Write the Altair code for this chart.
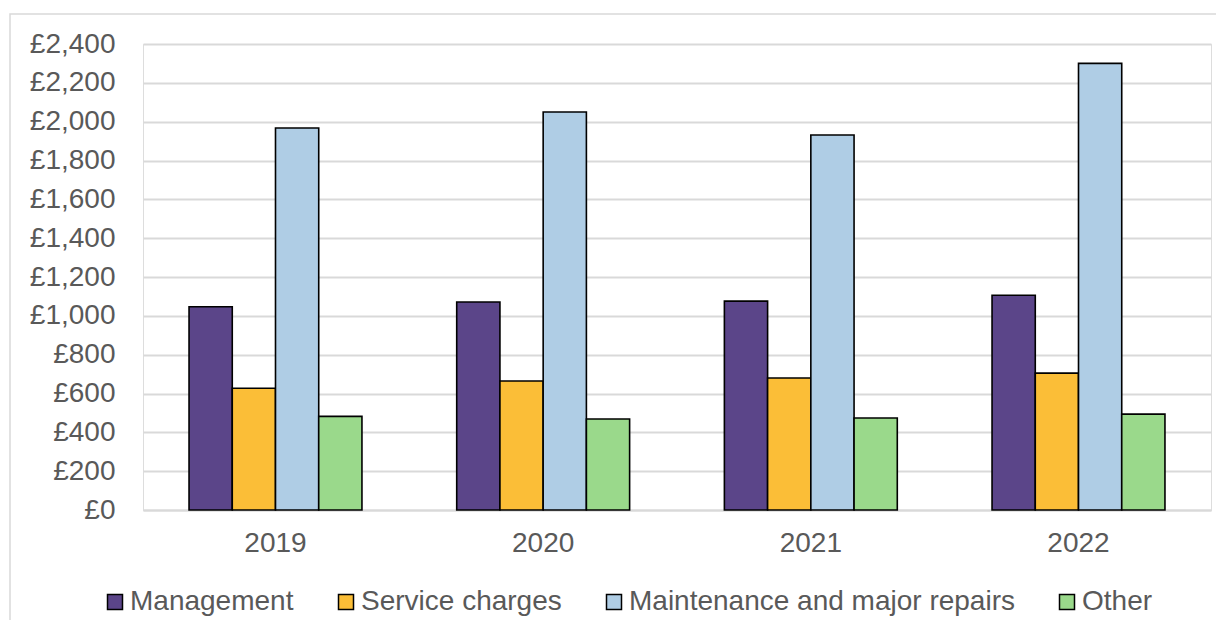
import altair as alt
import pandas as pd

years = ["2019", "2020", "2021", "2022"]
categories = ["Management", "Service charges", "Maintenance and major repairs", "Other"]
management = [1047, 1071, 1076, 1106]
service = [627, 664, 680, 705]
maintenance = [1967, 2050, 1931, 2300]
other = [482, 469, 474, 494]
colors = ["#5B4589", "#FBBE37", "#AFCDE5", "#9AD98B"]
y_ticks = list(range(0, 2401, 200))

rows = []
for series, vals in zip(categories, [management, service, maintenance, other]):
    for yr, v in zip(years, vals):
        rows.append({"Year": yr, "Category": series, "Value": v})
df = pd.DataFrame(rows)

W, H = 1068, 466
FONT = "Liberation Sans"

bars = alt.Chart(df).mark_bar(stroke="black", strokeWidth=1.6).encode(
    x=alt.X("Year:N", sort=years, title=None,
            scale=alt.Scale(paddingInner=0.354, paddingOuter=0.172),
            axis=alt.Axis(labelAngle=0, labelFontSize=28, labelColor="#595959",
                          labelFont=FONT, labelPadding=19, ticks=False,
                          domainColor="#d9d9d9", domainWidth=2, grid=False)),
    xOffset=alt.XOffset("Category:N", sort=categories, scale=alt.Scale(paddingInner=0, paddingOuter=0)),
    y=alt.Y("Value:Q", title=None,
            scale=alt.Scale(domain=[0, 2400], nice=False),
            axis=alt.Axis(values=y_ticks, format="$,.0f", labelFontSize=28,
                          labelColor="#595959", labelFont=FONT,
                          labelPadding=28, ticks=False, domain=False,
                          gridColor="#d9d9d9", gridWidth=2)),
    color=alt.Color("Category:N", sort=categories,
                    scale=alt.Scale(domain=categories, range=colors),
                    legend=alt.Legend(title=None, orient="none", direction="horizontal",
                                      legendX=-42, legendY=544,
                                      symbolType="square", symbolSize=225,
                                      symbolStrokeColor="black", symbolStrokeWidth=1.5,
                                      labelFontSize=28, labelColor="#595959",
                                      labelFont=FONT, labelOffset=1,
                                      columnPadding=38, labelLimit=500)),
)

frame = alt.Chart(pd.DataFrame({"a": [0]})).mark_rect(
    fill=None, stroke="#d9d9d9", strokeWidth=1.5
).encode(
    x=alt.value(-133), x2=alt.value(1120), y=alt.value(-30), y2=alt.value(640)
)

chart = alt.layer(frame, bars).properties(
    width=W, height=H,
    autosize=alt.AutoSizeParams(type="none"),
    padding={"left": 135, "top": 36, "right": 5, "bottom": 110},
).configure_view(stroke=None).configure(
    locale={"number": {"decimal": ".", "thousands": ",", "grouping": [3], "currency": ["£", ""]}}
)

chart.save("out.html", embed_options={"renderer": "svg", "actions": False})
